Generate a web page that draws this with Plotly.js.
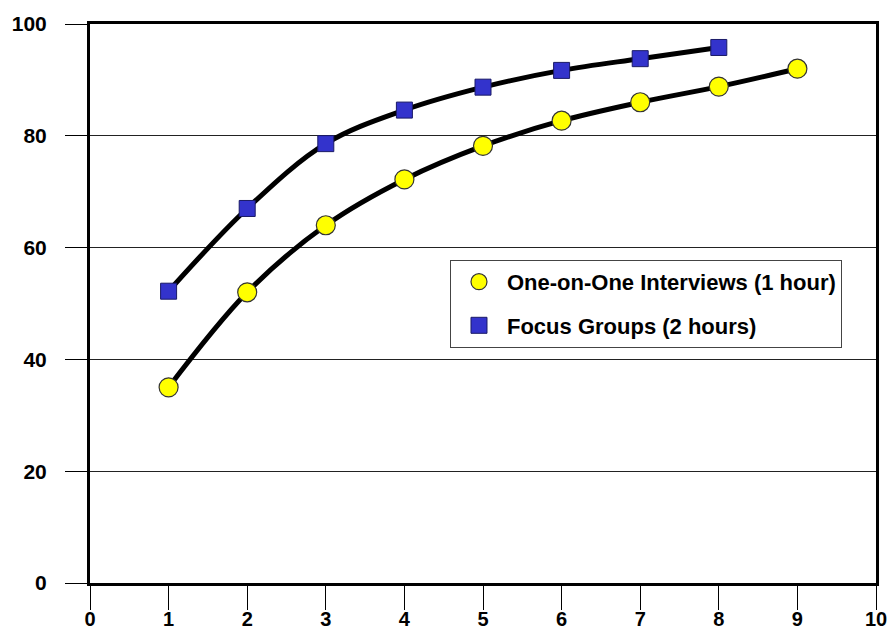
<!DOCTYPE html>
<html>
<head>
<meta charset="utf-8">
<script src="https://cdn.plot.ly/plotly-3.0.1.min.js"></script>
<style>html,body{margin:0;padding:0;background:#fff;}#chart{width:890px;height:634px;}</style>
</head>
<body>
<div id="chart"></div>
<script>
const sessions = [1, 2, 3, 4, 5, 6, 7, 8, 9];
const interviewValues = [35, 52, 64, 72.2, 78.2, 82.7, 86, 88.8, 92];
const focusSessions = [1, 2, 3, 4, 5, 6, 7, 8];
const focusValues = [52.2, 67, 78.6, 84.6, 88.7, 91.7, 93.8, 95.8];
const seriesNames = ['One-on-One Interviews (1 hour)', 'Focus Groups (2 hours)'];
const xTicks = [0, 1, 2, 3, 4, 5, 6, 7, 8, 9, 10];
const yTicks = [0, 20, 40, 60, 80, 100];

const fontFam = '"Liberation Sans", Arial, sans-serif';

const traces = [
  {x: sessions, y: interviewValues, mode: 'lines', line: {color: '#000', width: 5, shape: 'spline', smoothing: 1}, showlegend: false, hoverinfo: 'skip'},
  {x: focusSessions, y: focusValues, mode: 'lines', line: {color: '#000', width: 5, shape: 'spline', smoothing: 1}, showlegend: false, hoverinfo: 'skip'},
  {x: sessions, y: interviewValues, mode: 'markers', name: seriesNames[0], legendgroup: 'a',
   marker: {symbol: 'circle', size: 19, color: '#ffff00', line: {color: '#333', width: 1.2}}},
  {x: focusSessions, y: focusValues, mode: 'markers', name: seriesNames[1], legendgroup: 'b',
   marker: {symbol: 'square', size: 16, color: '#3333cc', line: {color: '#1a1a66', width: 1}}}
];

const layout = {
  width: 890, height: 634,
  margin: {l: 90, r: 14, t: 24, b: 51},
  paper_bgcolor: '#fff', plot_bgcolor: '#fff',
  font: {family: fontFam, size: 21, color: '#000', weight: 'bold'},
  showlegend: true,
  legend: {
    x: 0.458, y: 0.578, xanchor: 'left', yanchor: 'top',
    bgcolor: '#fff', bordercolor: '#444', borderwidth: 1,
    font: {family: fontFam, size: 22, color: '#000', weight: 'bold'},
    tracegroupgap: 12, itemwidth: 46
  },
  xaxis: {
    range: [0, 10], tickvals: xTicks, ticktext: xTicks.map(String),
    showgrid: false, zeroline: false,
    showline: true, linecolor: '#000', linewidth: 3, mirror: true,
    ticks: 'outside', ticklen: 24, tickwidth: 1, tickcolor: '#000',
    ticklabelstandoff: -8,
    tickfont: {family: fontFam, size: 20, color: '#000', weight: 'bold'}
  },
  yaxis: {
    range: [0, 100], tickvals: yTicks, ticktext: yTicks.map(String),
    showgrid: true, gridcolor: '#222', gridwidth: 1, zeroline: false,
    showline: true, linecolor: '#000', linewidth: 3, mirror: true,
    ticks: 'outside', ticklen: 22, tickwidth: 1, tickcolor: '#000',
    ticklabelstandoff: 14,
    tickfont: {family: fontFam, size: 21, color: '#000', weight: 'bold'}
  }
};

Plotly.newPlot('chart', traces, layout, {displayModeBar: false, staticPlot: true});
</script>
</body>
</html>
